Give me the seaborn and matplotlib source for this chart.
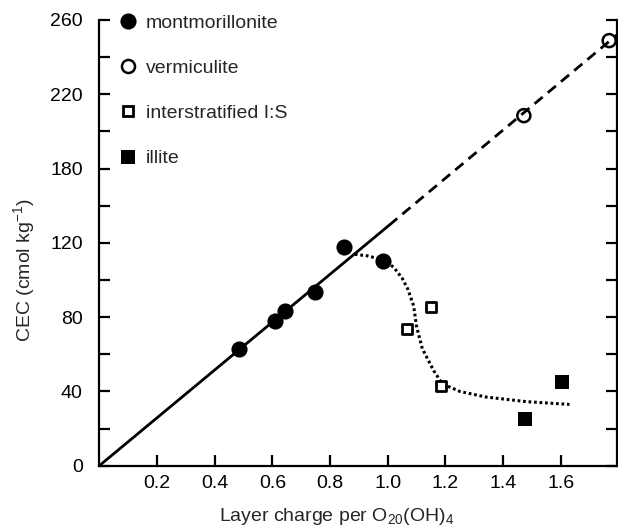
import matplotlib
matplotlib.use("Agg")
import matplotlib.pyplot as plt
import seaborn as sns
import numpy as np
from matplotlib.lines import Line2D
from matplotlib.ticker import MultipleLocator

sns.set_style("ticks")
plt.rcParams['font.family'] = ['Liberation Sans', 'DejaVu Sans']
plt.rcParams['mathtext.default'] = 'regular'

# ---- data (y in plotted axis units) ----
mont_x = [0.484, 0.610, 0.644, 0.747, 0.847, 0.983]
mont_y = [62.7, 78.1, 83.3, 93.4, 117.6, 110.4]
verm_x = [1.472, 1.768]
verm_y = [188.5, 228.9]
inter_x = [1.068, 1.150, 1.184]
inter_y = [73.6, 85.3, 43.1]
illite_x = [1.477, 1.606]
illite_y = [25.0, 44.9]

solid_x = [0.0, 1.005]
solid_y = [0.0, 129.5]
dash_x = [1.005, 1.795]
dash_y = [129.5, 232.0]

curve_x = [0.886, 0.93, 0.98, 1.02, 1.05, 1.07, 1.09, 1.10, 1.12, 1.16, 1.19, 1.25, 1.34, 1.48, 1.63]
curve_y = [113.8, 113.0, 111.0, 107.0, 101.0, 95.0, 86.0, 75.0, 63.0, 51.0, 44.0, 40.0, 37.0, 34.5, 33.0]

xticks = [0.2, 0.4, 0.6, 0.8, 1.0, 1.2, 1.4, 1.6]
xtick_labels = ['0.2', '0.4', '0.6', '0.8', '1.0', '1.2', '1.4', '1.6']
yticks = [0, 40, 80, 120, 160, 200, 240]
ytick_labels = ['0', '40', '80', '120', '180', '220', '260']

legend_labels = ['montmorillonite', 'vermiculite', 'interstratified I:S', 'illite']

FS = 14
W, H = 618, 528
fig = plt.figure(figsize=(W / 100, H / 100), dpi=100)
left, right, top, bottom = 99.3, 617.0, 20.0, 465.7
ax = fig.add_axes([left / W, 1 - bottom / H, (right - left) / W, (bottom - top) / H])

sns.lineplot(x=solid_x, y=solid_y, ax=ax, color='black', lw=2.0, sort=False, estimator=None, zorder=2)
sns.lineplot(x=dash_x, y=dash_y, ax=ax, color='black', lw=2.0, sort=False, estimator=None,
             zorder=4, linestyle=(0, (3.8, 2.4)))
sns.lineplot(x=curve_x, y=curve_y, ax=ax, color='black', lw=2.2, sort=False, estimator=None,
             zorder=2, linestyle=(0, (0.9, 0.9)))

sns.scatterplot(x=mont_x, y=mont_y, ax=ax, marker='o', s=135, color='black', edgecolor='black',
                linewidth=0, zorder=3)
sns.scatterplot(x=verm_x, y=verm_y, ax=ax, marker='o', s=88, facecolor='none', edgecolor='black',
                linewidth=1.8, zorder=3)
sns.scatterplot(x=inter_x, y=inter_y, ax=ax, marker='s', s=62, facecolor='white', edgecolor='black',
                linewidth=2.0, zorder=3)
sns.scatterplot(x=illite_x, y=illite_y, ax=ax, marker='s', s=110, color='black', edgecolor='black',
                linewidth=0, zorder=3)

ax.set_xlim(0, 1.795)
ax.set_ylim(0, 240)
ax.set_xticks(xticks)
ax.set_xticklabels(xtick_labels)
ax.set_yticks(yticks)
ax.set_yticklabels(ytick_labels)
ax.yaxis.set_minor_locator(MultipleLocator(20))

for s in ['left', 'bottom', 'right']:
    ax.spines[s].set_linewidth(1.6)
    ax.spines[s].set_color('black')
ax.spines['top'].set_visible(False)

ax.tick_params(axis='both', which='both', direction='in', length=8, width=1.6, colors='black',
               labelsize=FS)
ax.tick_params(axis='y', which='both', right=True, labelright=False, pad=12)
ax.tick_params(axis='x', which='both', pad=7)
ax.set_xlabel('')
ax.set_ylabel('')

fig.text(24 / W, 1 - 270 / H, 'CEC (cmol kg$^{-1}$)', rotation=90, ha='center', va='center',
         fontsize=FS)
fig.text(336.7 / W, 1 - 521 / H, 'Layer charge per O$_{20}$(OH)$_4$', ha='center', va='baseline',
         fontsize=FS)

handles = [
    Line2D([], [], marker='o', ls='none', markersize=np.sqrt(135), markerfacecolor='black',
           markeredgewidth=0),
    Line2D([], [], marker='o', ls='none', markersize=np.sqrt(88), markerfacecolor='none',
           markeredgecolor='black', markeredgewidth=1.8),
    Line2D([], [], marker='s', ls='none', markersize=np.sqrt(62), markerfacecolor='white',
           markeredgecolor='black', markeredgewidth=2.0),
    Line2D([], [], marker='s', ls='none', markersize=np.sqrt(110), markerfacecolor='black',
           markeredgewidth=0),
]
ax.legend(handles, legend_labels, loc='upper left', bbox_to_anchor=(0.0367, 1.013), frameon=False,
          fontsize=FS, handlelength=1.0, handletextpad=0.4, labelspacing=1.42, borderpad=0,
          borderaxespad=0)

fig.savefig('out.png', dpi=100)
